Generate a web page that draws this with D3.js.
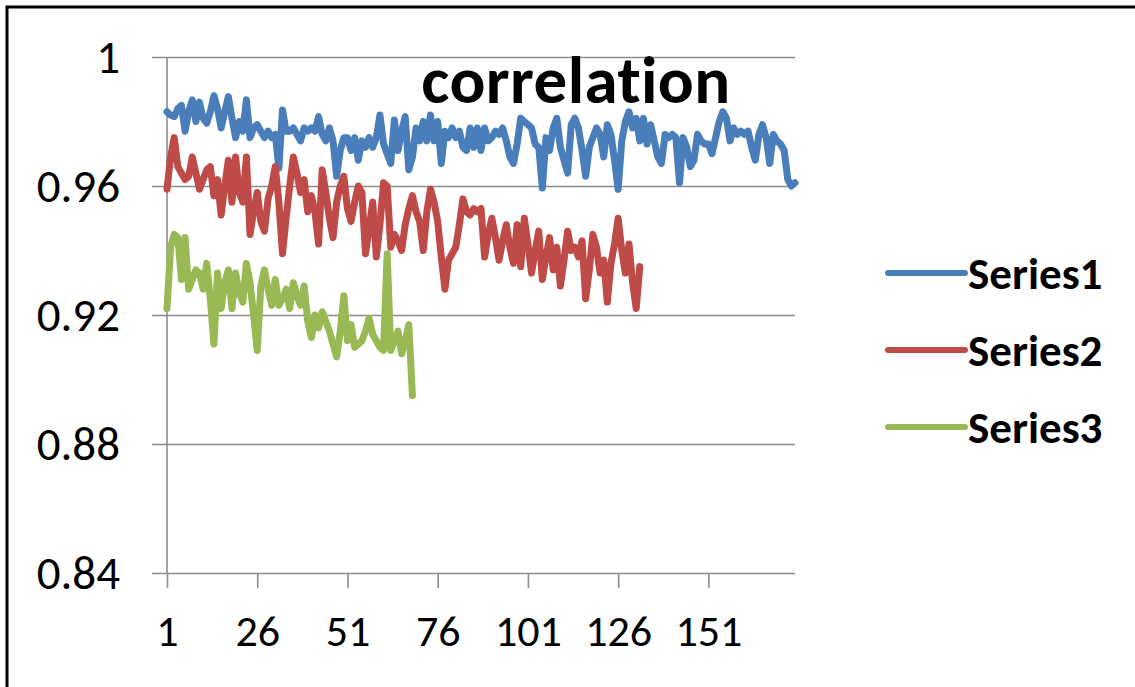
<!DOCTYPE html>
<html>
<head>
<meta charset="utf-8">
<script src="https://cdn.jsdelivr.net/npm/d3@7"></script>
<style>
  html, body { margin: 0; padding: 0; background: #fff; }
  svg { display: block; font-family: Carlito, Calibri, Lato, sans-serif; }
  svg text { font-variant-ligatures: none; }
</style>
</head>
<body>
<div id="chart"></div>
<script>
// correlation values, one per category (1..n)
var series1 = [
  0.983, 0.982, 0.9815, 0.984, 0.985, 0.977, 0.983, 0.9867, 0.980, 0.986,
  0.981, 0.9795, 0.983, 0.988, 0.984, 0.978, 0.983, 0.9877, 0.981, 0.975,
  0.980, 0.977, 0.9867, 0.975, 0.978, 0.979, 0.977, 0.975, 0.977, 0.975,
  0.976, 0.9656, 0.9836, 0.977, 0.977, 0.978, 0.976, 0.974, 0.978, 0.977,
  0.978, 0.977, 0.9815, 0.976, 0.974, 0.978, 0.974, 0.963, 0.971, 0.975,
  0.975, 0.971, 0.975, 0.968, 0.974, 0.972, 0.975, 0.972, 0.975, 0.982,
  0.973, 0.970, 0.967, 0.9805, 0.971, 0.977, 0.9815, 0.965, 0.969, 0.978,
  0.974, 0.980, 0.974, 0.982, 0.974, 0.980, 0.967, 0.977, 0.975, 0.978,
  0.975, 0.977, 0.972, 0.971, 0.978, 0.972, 0.978, 0.971, 0.978, 0.974,
  0.975, 0.977, 0.976, 0.978, 0.974, 0.969, 0.967, 0.973, 0.981, 0.980,
  0.979, 0.978, 0.973, 0.972, 0.9594, 0.975, 0.971, 0.978, 0.981, 0.972,
  0.968, 0.964, 0.979, 0.981, 0.978, 0.971, 0.963, 0.972, 0.975, 0.978,
  0.976, 0.969, 0.979, 0.976, 0.968, 0.959, 0.974, 0.980, 0.983, 0.978,
  0.981, 0.974, 0.981, 0.973, 0.979, 0.974, 0.969, 0.967, 0.976, 0.975,
  0.976, 0.975, 0.961, 0.975, 0.972, 0.966, 0.968, 0.976, 0.974, 0.973,
  0.973, 0.970, 0.975, 0.980, 0.983, 0.981, 0.974, 0.978, 0.976, 0.977,
  0.976, 0.977, 0.972, 0.968, 0.976, 0.979, 0.975, 0.967, 0.976, 0.974,
  0.973, 0.971, 0.962, 0.960, 0.961
];

var series2 = [
  0.959, 0.969, 0.975, 0.966, 0.964, 0.962, 0.963, 0.969, 0.964, 0.959,
  0.962, 0.965, 0.966, 0.957, 0.962, 0.951, 0.960, 0.968, 0.955, 0.969,
  0.958, 0.955, 0.969, 0.945, 0.952, 0.958, 0.949, 0.946, 0.956, 0.960,
  0.966, 0.955, 0.939, 0.950, 0.960, 0.969, 0.964, 0.958, 0.962, 0.952,
  0.957, 0.952, 0.942, 0.965, 0.958, 0.950, 0.944, 0.955, 0.960, 0.963,
  0.953, 0.949, 0.955, 0.960, 0.958, 0.939, 0.947, 0.955, 0.938, 0.948,
  0.961, 0.960, 0.941, 0.945, 0.943, 0.940, 0.948, 0.953, 0.957, 0.952,
  0.949, 0.940, 0.952, 0.959, 0.955, 0.949, 0.938, 0.928, 0.937, 0.939,
  0.941, 0.948, 0.956, 0.952, 0.951, 0.953, 0.952, 0.953, 0.938, 0.945,
  0.950, 0.944, 0.937, 0.943, 0.948, 0.941, 0.936, 0.948, 0.935, 0.950,
  0.942, 0.933, 0.940, 0.946, 0.931, 0.938, 0.944, 0.934, 0.941, 0.929,
  0.937, 0.946, 0.940, 0.941, 0.938, 0.943, 0.925, 0.934, 0.945, 0.941,
  0.933, 0.937, 0.924, 0.936, 0.942, 0.950, 0.940, 0.933, 0.942, 0.930,
  0.922, 0.935
];

var series3 = [
  0.922, 0.941, 0.945, 0.944, 0.931, 0.944, 0.928, 0.931, 0.934, 0.933,
  0.928, 0.936, 0.925, 0.911, 0.933, 0.922, 0.930, 0.934, 0.922, 0.933,
  0.927, 0.924, 0.936, 0.930, 0.920, 0.909, 0.929, 0.934, 0.928, 0.923,
  0.931, 0.923, 0.925, 0.928, 0.922, 0.930, 0.926, 0.923, 0.929, 0.918,
  0.913, 0.920, 0.916, 0.921, 0.918, 0.915, 0.911, 0.907, 0.915, 0.926,
  0.912, 0.917, 0.910, 0.911, 0.912, 0.915, 0.919, 0.914, 0.912, 0.910,
  0.909, 0.939, 0.909, 0.912, 0.915, 0.908, 0.912, 0.917, 0.895
];

var seriesNames = ["Series1", "Series2", "Series3"];
var seriesColors = ["#4a7ebb", "#be4b48", "#98b954"];
var yTicks = [0.84, 0.88, 0.92, 0.96, 1];
var xTickLabels = [1, 26, 51, 76, 101, 126, 151];
var nCategories = 175;
var chartTitle = "correlation";

var W = 1135, H = 687;
var margin = {top: 57, left: 167, right: 340, bottom: 114};
var labelFont = "Carlito, Calibri, Lato, sans-serif";

var svg = d3.select("#chart").append("svg")
    .attr("width", W)
    .attr("height", H);

svg.append("rect").attr("width", W).attr("height", H).attr("fill", "#fff");

// outer frame, only top and left edges are inside the picture
svg.append("path")
    .attr("d", "M7," + H + "V7H" + W)
    .attr("fill", "none")
    .attr("stroke", "#000")
    .attr("stroke-width", 3);

var x = d3.scaleLinear()
    .domain([1, nCategories])
    .range([margin.left, W - margin.right]);

var y = d3.scaleLinear()
    .domain([0.84, 1])
    .range([H - margin.bottom, margin.top]);

// gridlines + y axis labels
var yAxis = d3.axisLeft(y)
    .tickValues(yTicks)
    .tickSize(-(x.range()[1] - x.range()[0]))
    .tickPadding(47)
    .tickFormat(function (d) { return d === 1 ? "1" : d3.format(".2f")(d); });

var gy = svg.append("g")
    .attr("transform", "translate(" + margin.left + ",0)")
    .call(yAxis);
gy.select(".domain").remove();
gy.selectAll(".tick line")
    .attr("x1", -15)
    .attr("stroke", "#8c8c8c")
    .attr("stroke-width", 1.6);
gy.selectAll(".tick text")
    .attr("fill", "#000")
    .style("font-size", "47px")
    .style("font-family", labelFont);

// vertical axis line
svg.append("line")
    .attr("x1", margin.left).attr("x2", margin.left)
    .attr("y1", y(1)).attr("y2", y(0.84))
    .attr("stroke", "#8c8c8c")
    .attr("stroke-width", 1.6);

// category axis
var xAxis = d3.axisBottom(x)
    .tickValues(xTickLabels)
    .tickSize(15)
    .tickPadding(27)
    .tickFormat(d3.format("d"));

var gx = svg.append("g")
    .attr("transform", "translate(0," + y(0.84) + ")")
    .call(xAxis);
gx.select(".domain").remove();
gx.selectAll(".tick line")
    .attr("stroke", "#8c8c8c")
    .attr("stroke-width", 1.6);
gx.selectAll(".tick text")
    .attr("fill", "#000")
    .style("font-size", "44px")
    .style("font-family", labelFont);

// series lines
var line = d3.line()
    .x(function (d, i) { return x(i + 1); })
    .y(function (d) { return y(d); });

var allSeries = [series1, series2, series3];

svg.append("g").selectAll("path")
    .data(allSeries)
    .enter().append("path")
    .attr("d", line)
    .attr("fill", "none")
    .attr("stroke", function (d, i) { return seriesColors[i]; })
    .attr("stroke-width", 7)
    .attr("stroke-linejoin", "round")
    .attr("stroke-linecap", "round");

// title (letter-spacing keeps the browser from joining "ti")
svg.append("text")
    .attr("x", 576)
    .attr("y", 103)
    .attr("text-anchor", "middle")
    .style("font-size", "67px")
    .style("font-weight", "bold")
    .style("letter-spacing", "0.4px")
    .text(chartTitle);

// legend
var legend = svg.append("g").selectAll("g")
    .data(seriesNames)
    .enter().append("g")
    .attr("transform", function (d, i) { return "translate(888," + (273 + i * 77) + ")"; });

legend.append("line")
    .attr("x1", 0).attr("x2", 77)
    .attr("stroke", function (d, i) { return seriesColors[i]; })
    .attr("stroke-width", 6)
    .attr("stroke-linecap", "round");

legend.append("text")
    .attr("x", 80)
    .attr("dy", "0.35em")
    .style("font-size", "45px")
    .style("font-weight", "bold")
    .text(function (d) { return d; });
</script>
</body>
</html>
